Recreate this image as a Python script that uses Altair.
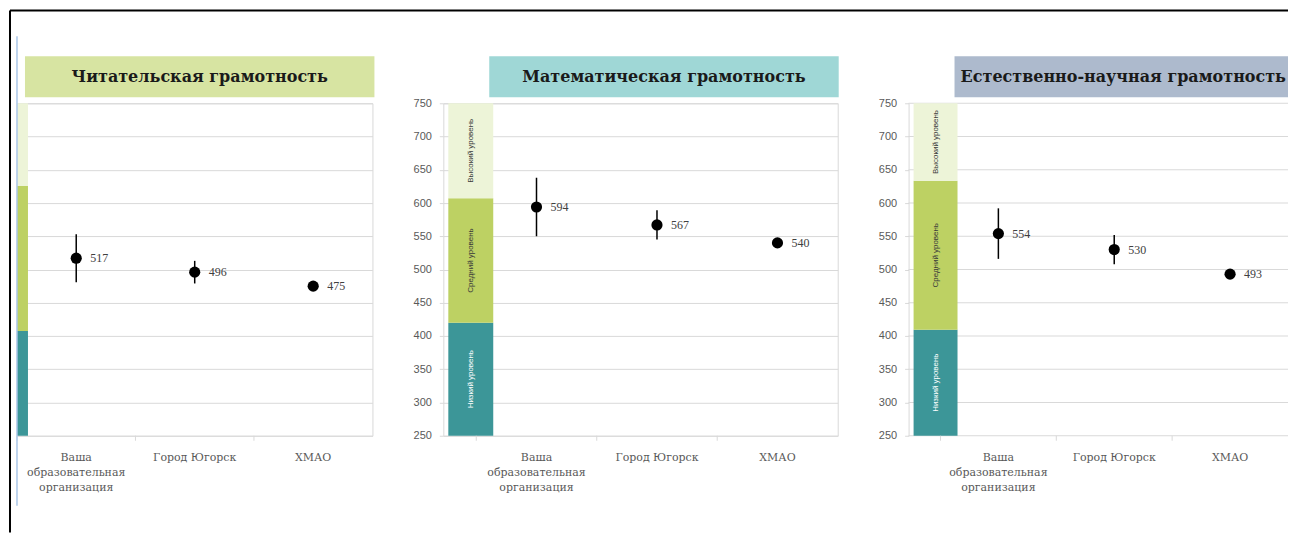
import altair as alt
import pandas as pd

# ---------------- data ----------------
subjects = ["Читательская грамотность", "Математическая грамотность", "Естественно-научная грамотность"]
title_fills = ["#d7e4a2", "#9fd7d6", "#adbacd"]
categories = ["Ваша образовательная организация", "Город Югорск", "ХМАО"]

reading_scores = [517, 496, 475]
reading_low = [481, 479, 475]
reading_high = [553, 513, 475]

math_scores = [594, 567, 540]
math_low = [550, 545, 540]
math_high = [638, 589, 540]

science_scores = [554, 530, 493]
science_low = [516, 508, 493]
science_high = [592, 552, 493]

level_names = ["Низкий уровень", "Средний уровень", "Высокий уровень"]
reading_cuts = [250, 407.47, 625.61, 750]
math_cuts = [250, 420.07, 606.99, 750]
science_cuts = [250, 409.54, 633.33, 750]
level_fills = ["#3c9698", "#bdd163", "#edf4d8"]

y_ticks = [250, 300, 350, 400, 450, 500, 550, 600, 650, 700, 750]

# ---------------- styling ----------------
H = 333
GRID = "#d9d9d9"
SERIF = "DejaVu Serif"


def one():
    return pd.DataFrame({"k": [0]})


def panel(idx, scores, low, high, cuts, width, xscale, show_y, band_x0, band_x1,
          band_text, title_x0, title_x1, title_tx, extras=(), grid_layer=False):
    pts = pd.DataFrame({"cat": categories, "score": scores, "low": low, "high": high})
    lv = pd.DataFrame({"level": level_names, "lo": cuts[:-1], "hi": cuts[1:]})
    ttl = pd.DataFrame({"t": [subjects[idx]]})
    grid_df = pd.DataFrame({"v": y_ticks})

    yscale = alt.Scale(domain=[250, 750], nice=False, zero=False)
    if show_y:
        yaxis = alt.Axis(title=None, values=y_ticks, grid=not grid_layer, gridColor=GRID, gridWidth=1,
                         domain=grid_layer, domainColor=GRID, ticks=True, tickSize=4, tickColor=GRID,
                         labelFont="Liberation Sans", labelFontSize=11, labelColor="#595959",
                         labelPadding=8)
    else:
        yaxis = alt.Axis(title=None, values=y_ticks, grid=True, gridColor=GRID, gridWidth=1,
                         domain=False, ticks=False, labels=False)
    xaxis = alt.Axis(title=None, ticks=False, domain=False, labelAngle=0, labelFont=SERIF,
                     labelFontSize=11, labelColor="#595959", labelLineHeight=15,
                     labelPadding=16, labelLimit=0,
                     labelExpr="length(datum.label) > 20 ? split(datum.label, ' ') : datum.label")

    def X(**kw):
        return alt.X("cat:N", sort=categories, scale=xscale, axis=xaxis, **kw)

    def Y(f):
        return alt.Y(f, type="quantitative", scale=yscale, axis=yaxis)

    layers = []
    layers.append(alt.Chart(ttl).mark_rect(color=title_fills[idx]).encode(
        x=alt.value(title_x0), x2=alt.value(title_x1), y=alt.value(-47), y2=alt.value(-6)))
    layers.append(alt.Chart(ttl).mark_text(font=SERIF, fontWeight="bold", fontSize=16,
                                           color="#1a1a1a", align="center", baseline="middle").encode(
        text="t:N", x=alt.value(title_tx), y=alt.value(-26)))
    if grid_layer:
        layers.append(alt.Chart(grid_df).mark_rule(color=GRID, strokeWidth=1).encode(
            y=Y("v"), x=alt.value(0), x2=alt.value(width)))
    layers.append(alt.Chart(lv).mark_rect().encode(
        y=Y("lo"), y2="hi", x=alt.value(band_x0), x2=alt.value(band_x1),
        color=alt.Color("level:N", scale=alt.Scale(domain=level_names, range=level_fills), legend=None)))
    if band_text:
        layers.append(alt.Chart(lv).transform_calculate(mid="(datum.lo + datum.hi) / 2").mark_text(
            angle=270, font="Liberation Sans", fontSize=8, align="center", baseline="middle").encode(
            y=Y("mid"), x=alt.value((band_x0 + band_x1) / 2), text="level:N",
            color=alt.condition(alt.datum.level == "Низкий уровень", alt.value("white"), alt.value("#3a3a3a"))))
    layers.append(alt.Chart(pts).mark_rule(color=GRID, strokeWidth=1).encode(
        x=X(bandPosition=0), y=alt.value(H), y2=alt.value(H + 5)))
    layers.append(alt.Chart(pts).mark_rule(color="black", strokeWidth=1.5).encode(
        x=X(), y=Y("low"), y2="high"))
    layers.append(alt.Chart(pts).mark_circle(size=125, opacity=1, color="black").encode(
        x=X(), y=Y("score")))
    layers.append(alt.Chart(pts).mark_text(align="left", baseline="middle", dx=14,
                                           font="Liberation Serif", fontSize=12, color="#404040").encode(
        x=X(), y=Y("score"), text="score:Q"))
    layers.extend(extras)
    ch = alt.layer(*layers).properties(width=width, height=H)
    if grid_layer:
        ch = ch.properties(view=alt.ViewBackground(stroke=None))
    return ch


frame = [
    alt.Chart(one()).mark_rule(color="black", strokeWidth=2).encode(
        x=alt.value(-7), y=alt.value(-93), y2=alt.value(430)),
    alt.Chart(one()).mark_rule(color="black", strokeWidth=2).encode(
        x=alt.value(-7), x2=alt.value(1273), y=alt.value(-93)),
    alt.Chart(one()).mark_rule(color="#a9c6e8", strokeWidth=1.5).encode(
        x=alt.value(0), y=alt.value(-67), y2=alt.value(403)),
]

p1 = panel(0, reading_scores, reading_low, reading_high, reading_cuts, 356,
           alt.Scale(paddingInner=0, paddingOuter=0), False, 0, 11, False, 8, 358, 183, frame)
p2 = panel(1, math_scores, math_low, math_high, math_cuts, 395,
           alt.Scale(paddingInner=0, paddingOuter=0.1367, align=1), True, 5, 50, True, 46, 396, 221)
p3 = panel(2, science_scores, science_low, science_high, science_cuts, 380,
           alt.Scale(paddingInner=0, paddingOuter=0.1375, align=1), True, 5, 49, True,
           46, 380, 215, grid_layer=True)

chart = alt.hconcat(p1, p2, p3, spacing=71, bounds="flush").properties(
    padding=0, background="white"
).configure_view(stroke=GRID, strokeWidth=1)

chart.save("out.html", embed_options={"renderer": "svg", "actions": False})
